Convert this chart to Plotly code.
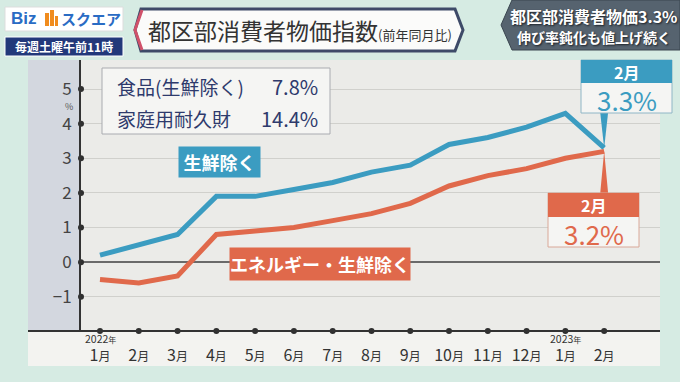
import plotly.graph_objects as go

# ---------------- data ----------------
months = ["1月", "2月", "3月", "4月", "5月", "6月", "7月", "8月", "9月", "10月", "11月", "12月", "1月", "2月"]
year_marks = {0: "2022", 12: "2023"}
core = [0.2, 0.5, 0.8, 1.9, 1.9, 2.1, 2.3, 2.6, 2.8, 3.4, 3.6, 3.9, 4.3, 3.3]          # 生鮮除く
core_core = [-0.5, -0.6, -0.4, 0.8, 0.9, 1.0, 1.2, 1.4, 1.7, 2.2, 2.5, 2.7, 3.0, 3.2]  # エネルギー・生鮮除く
y_ticks = [-1, 0, 1, 2, 3, 4, 5]
info_items = ["食品(生鮮除く)", "家庭用耐久財"]
info_values = ["7.8%", "14.4%"]
series_names = ["生鮮除く", "エネルギー・生鮮除く"]
last_label = "2月"

# ---------------- geometry ----------------
W, H = 680, 382
L, R, T, B = 81, 660, 60, 331
XR = [-0.49, 14.44]
YR = [-1.99, 5.84]
FONT = "Noto Sans CJK JP"
BLUE = "#3b9cc1"
RED = "#e0694b"
NAVY = "#2e3a6c"

def fx(x):
    return (x - L) / (R - L)

def fy(y):
    return (B - y) / (B - T)

def dxp(px):
    return (px) / (R - L) * (XR[1] - XR[0])

def dy(py):
    return YR[0] + (B - py) / (B - T) * (YR[1] - YR[0])

def rect(x0, y0, x1, y1, fill, line_color=None, lw=0, layer="above"):
    return dict(type="rect", xref="paper", yref="paper", x0=fx(x0), x1=fx(x1),
                y0=fy(y1), y1=fy(y0), fillcolor=fill, layer=layer,
                line=dict(color=line_color or fill, width=lw))

def path(points, fill=None, line_color=None, lw=0, closed=True, layer="above"):
    d = "M " + " L ".join(f"{fx(x):.5f},{fy(y):.5f}" for x, y in points)
    if closed:
        d += " Z"
    s = dict(type="path", xref="paper", yref="paper", path=d, layer=layer,
             line=dict(color=line_color or "rgba(0,0,0,0)", width=lw))
    if fill:
        s["fillcolor"] = fill
    return s

def txt(x, y, s, size, color, xanchor="center", bold=False, shadow=None, family=FONT):
    f = dict(family=family, size=size, color=color)
    if bold:
        f["weight"] = "bold"
    if shadow:
        f["shadow"] = shadow
    return dict(xref="paper", yref="paper", x=fx(x), y=fy(y), text=s, showarrow=False,
                xanchor=xanchor, yanchor="middle", font=f)

fig = go.Figure()

x_idx = list(range(len(months)))

# lines
fig.add_trace(go.Scatter(x=x_idx, y=core, mode="lines", line=dict(color=BLUE, width=5),
                         hoverinfo="skip", showlegend=False, name=series_names[0]))
fig.add_trace(go.Scatter(x=x_idx, y=core_core, mode="lines", line=dict(color=RED, width=5),
                         hoverinfo="skip", showlegend=False, name=series_names[1]))

# axis dots
fig.add_trace(go.Scatter(x=[XR[0]] * len(y_ticks), y=y_ticks, mode="markers",
                         marker=dict(color="#2f2f2f", size=6), cliponaxis=False,
                         hoverinfo="skip", showlegend=False))
fig.add_trace(go.Scatter(x=x_idx, y=[YR[0]] * len(x_idx), mode="markers",
                         marker=dict(color="#2f2f2f", size=6), cliponaxis=False,
                         hoverinfo="skip", showlegend=False))

shapes = []
# panel pieces
shapes.append(rect(28, T, L, B, "#d3d7df", layer="below"))
shapes.append(rect(28, B, R, 366, "#f3f3f0", layer="below"))
shapes.append(dict(type="line", xref="paper", yref="paper", x0=fx(28), x1=1, y0=0, y1=0,
                   line=dict(color="#333333", width=2), layer="above"))

# info box
shapes.append(rect(102, 68, 330, 134, "#f5f5f3", "#a9abb0", 1))

# callouts
n = len(months) - 1
hw = dxp(4)
shapes.append(dict(type="path", xref="x", yref="y", fillcolor=BLUE, line=dict(width=0),
                   path=f"M {n - hw},{dy(112)} L {n + hw},{dy(112)} L {n},{core[-1]} Z"))
shapes.append(dict(type="path", xref="x", yref="y", fillcolor=RED, line=dict(width=0),
                   path=f"M {n - hw},{dy(194)} L {n + hw},{dy(194)} L {n},{core_core[-1]} Z"))
shapes.append(rect(581, 60, 672, 113, "#f5f5f3", "#8fb6c6", 1))
shapes.append(rect(581, 60, 672, 83, BLUE))
shapes.append(rect(548, 193, 639, 247, "#f5f5f3", "#d9a898", 1))
shapes.append(rect(548, 193, 639, 217, RED))

# header: logo
shapes.append(rect(5, 7, 123, 31, "#ffffff", "#dddddd", 1))
shapes.append(rect(45, 13, 49, 26, "#f08c1e"))
shapes.append(rect(50, 10, 54, 26, "#f08c1e"))
shapes.append(rect(55, 16, 58, 26, "#f08c1e"))
shapes.append(rect(5, 37, 123, 56, "#22387a", "#ffffff", 1))
# title banner
shapes.append(path([(141, 9), (455, 9), (463, 30), (455, 51), (141, 51), (135, 30)],
                   fill="#fbfbfa", line_color="#3e4a68", lw=3))
shapes.append(path([(142, 10), (135, 30), (142, 50)], line_color="#d0506a", lw=3, closed=False))
# right headline panel
shapes.append(path([(512, 0), (680, 0), (680, 50), (512, 50), (501, 25)], fill="#56636f",
                   line_color="#3b4650", lw=1))

ann = []
# y "%" unit
ann.append(txt(69, 106, "%", 9, "#555555"))
# year marks above tick labels
for i, yr in year_marks.items():
    ann.append(dict(xref="x", yref="paper", x=i, y=fy(338.5), text=f"{yr}<span style='font-size:8px'>年</span>",
                    showarrow=False, xanchor="center", yanchor="middle",
                    font=dict(family=FONT, size=10.5, color="#333333")))
# info box text
for k, (name, val) in enumerate(zip(info_items, info_values)):
    yy = 86 + 32 * k
    ann.append(txt(115, yy, name, 19, NAVY, xanchor="left"))
    ann.append(txt(320, yy, val, 20, NAVY, xanchor="right"))
# series labels
ann.append(dict(xref="paper", yref="paper", x=fx(219.5), y=fy(162), text=f"<b>{series_names[0]}</b>",
                showarrow=False, xanchor="center", yanchor="middle", width=81, height=30,
                bgcolor=BLUE, borderpad=0, font=dict(family=FONT, size=18, color="white")))
ann.append(dict(xref="paper", yref="paper", x=fx(320), y=fy(264), text=f"<b>{series_names[1]}</b>",
                showarrow=False, xanchor="center", yanchor="middle", width=180, height=32,
                bgcolor=RED, borderpad=0, font=dict(family=FONT, size=18, color="white")))
# callout text
ann.append(txt(626.5, 71.5, f"<b>{last_label}</b>", 16, "white"))
ann.append(txt(626.5, 99, f"{core[-1]}%", 26, BLUE))
ann.append(txt(593.5, 204.5, f"<b>{last_label}</b>", 16, "white"))
ann.append(txt(593.5, 233, f"{core_core[-1]}%", 26, RED))
# header texts
ann.append(txt(9, 18.5, "<b>Biz</b>", 17, "#2a6cc4", xanchor="left", family="Liberation Sans"))
ann.append(txt(59, 18.5, "<b>スクエア</b>", 15, "#2a6cc4", xanchor="left"))
ann.append(txt(64, 46.5, "<b>毎週土曜午前11時</b>", 12, "white"))
ann.append(txt(146, 30, "都区部消費者物価指数<span style='font-size:13px'>(前年同月比)</span>", 23, "#333333",
               xanchor="left"))
ann.append(txt(594, 16, "<b>都区部消費者物価3.3%</b>", 16, "white", shadow="1px 1px 2px #1a1f26"))
ann.append(txt(594, 37, "<b>伸び率鈍化も値上げ続く</b>", 14, "white", shadow="1px 1px 2px #1a1f26"))

tick_text = [m[:-1] + "<span style='font-size:12px'>月</span>" for m in months]

fig.update_layout(
    width=W, height=H,
    margin=dict(l=L, r=W - R, t=T, b=H - B, autoexpand=False),
    paper_bgcolor="#d6ebe3",
    plot_bgcolor="#ebebe8",
    font=dict(family=FONT, color="#333333"),
    showlegend=False,
    shapes=shapes,
    annotations=ann,
    xaxis=dict(range=XR, tickmode="array", tickvals=x_idx, ticktext=tick_text,
               showgrid=False, zeroline=False, showline=False, ticks="",
               tickfont=dict(family=FONT, size=16, color="#333333"),
               ticklabelstandoff=13, automargin=False, fixedrange=True),
    yaxis=dict(range=YR, tickmode="array", tickvals=y_ticks,
               showgrid=True, gridcolor="#d0d0cc", gridwidth=1,
               zeroline=True, zerolinecolor="#6a6a6a", zerolinewidth=1.5,
               showline=True, linecolor="#333333", linewidth=2, ticks="",
               tickfont=dict(family=FONT, size=17, color="#444444"),
               ticklabelstandoff=4, automargin=False, fixedrange=True),
)

fig.write_html("out.html", config=dict(displayModeBar=False),
               post_script="document.body.style.margin='0';document.body.style.overflow='hidden';")
